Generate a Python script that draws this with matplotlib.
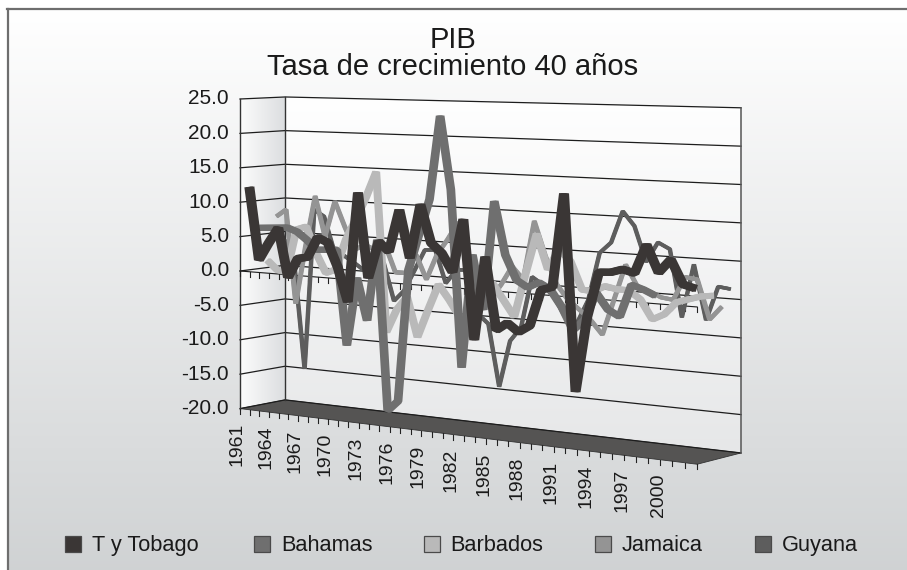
import matplotlib
matplotlib.use("Agg")
import matplotlib.pyplot as plt
from matplotlib.patches import Polygon, Rectangle
import numpy as np

plt.rcParams['font.family'] = ['Liberation Sans', 'DejaVu Sans']

first_year = 1961
n_years = 42
yticks = [25, 20, 15, 10, 5, 0, -5, -10, -15, -20]
year_labels = [1961, 1964, 1967, 1970, 1973, 1976, 1979, 1982, 1985, 1988, 1991, 1994, 1997, 2000]

names = ['T y Tobago', 'Bahamas', 'Barbados', 'Jamaica', 'Guyana']
colors = ['#3a3635', '#6f6f6f', '#b9b9b9', '#949494', '#5d5d5d']
widths = [5.2, 4.4, 4.3, 2.9, 2.5]
# the ribbons are wider sideways than they are tall
side = [1.4, 1.3, 1.0, 0.5, 0.5]

tobago = [12.2, 1.7, 4.2, 6.5, -0.5, 2.3, 2.6, 5.5, 4.9, 1.5, -3.3, 12.2, 0.3, 5.5, 4.2, 10.1, 3.5, 11.0, 5.8, 4.5,
          2.0, 9.3, -7.0, 4.4, -5.4, -4.3, -5.4, -4.4, 0.5, 1.0, 13.5, -12.6, -2.6, 3.4, 3.5, 4.0, 3.6, 7.4, 3.9, 5.7,
          2.6, 2.2]
bahamas = [6.1, 6.2, 6.3, 6.4, 5.9, 4.8, 3.5, 3.6, 3.7, -9.8, -0.1, -6.0, 5.5, -18.4, -16.9, 1.6, 6.6, 11.6, 23.2, 13.1,
           -11.3, 4.3, -3.1, 11.8, 4.6, 1.3, 0.4, 1.2, 0.4, -1.8, -4.8, -3.3, 0.4, -1.7, -2.5, 1.8, 1.3, 0.6]
barbados = [1.2, -0.1, -0.3, 6.0, 6.5, 2.8, 0.0, 0.6, 5.0, 8.0, 11.2, 14.9, -7.7, -4.4, -2.5, -8.0, -4.1, -0.4, -2.4, -4.7,
            -5.2, -2.0, 0.4, -1.8, -4.0, 1.9, 7.5, 2.8, 5.6, 4.1, 0.4, 0.3, 1.1, 0.8, 0.8, -0.3, -2.8, -2.0, -0.3, 0.2,
            0.7, 0.9]
jamaica = [7.5, 8.6, -5.1, 3.3, 10.8, 5.0, 10.2, 6.6, 3.4, 4.2, 3.6, 4.4, 0.6, 0.6, 3.3, -0.1, 3.5, 5.7, 8.2, 3.8,
           -3.8, -2.2, 0.0, 2.6, 0.9, 9.0, 4.3, 0.6, -1.4, -2.6, -3.9, -5.7, -0.9, 3.9, 1.1, 0.6, -0.1, -0.3, 2.8, 2.6,
           -2.5, -0.7]
guyana = [3.9, -0.5, -14.9, 8.6, 7.7, 2.9, 2.2, 1.3, 0.3, 1.1, 1.5, -3.8, -2.2, 0.8, 3.8, 3.9, -0.7, 1.3, 1.4, -4.6,
          -5.9, -14.5, -8.0, -6.0, 1.1, 0.1, -1.5, -4.1, -4.8, -1.5, 5.0, 6.5, 10.8, 8.9, 4.2, 6.9, 6.1, -2.8, 4.3, -2.9,
          1.6, 1.4]
series = [tobago, bahamas, barbados, jamaica, guyana]


# t along the years 0-1, d depth 0 (front) to 1 (back), v the value
def project(t, d, v):
    t, d, v = np.asarray(t, float), np.asarray(d, float), np.asarray(v, float)
    w = 1 - 0.125 * t + 0.022 * d
    x = (240 + 370 * t + 51.3 * d + 3.4 * t * d) / w
    y = (271 - 2.4 * t + 0.1 * d - 6.88 * v) / w
    return x, y


def pt(t, d, v):
    x, y = project(t, d, v)
    return float(x), float(y)


def gradient(ax, img, extent, clip, cmap_from, cmap_to):
    c0 = np.array(matplotlib.colors.to_rgb(cmap_from))
    c1 = np.array(matplotlib.colors.to_rgb(cmap_to))
    rgb = c0 + (c1 - c0) * img[..., None]
    im = ax.imshow(rgb, extent=extent, aspect='auto', interpolation='bilinear', zorder=1)
    im.set_clip_path(clip)


fig = plt.figure(figsize=(9.07, 5.70), dpi=100, facecolor='white')
ax = fig.add_axes([0, 0, 1, 1])
ax.set_xlim(0, 907)
ax.set_ylim(570, 0)
ax.axis('off')

# chart area
bg = np.linspace(0, 1, 200).reshape(-1, 1)
ax.imshow(np.stack([1 - bg * 0.185, 1 - bg * 0.175, 1 - bg * 0.17], axis=-1),
          extent=(8, 907, 570, 9), aspect='auto', zorder=0)
ax.plot([7.5, 7.5], [570, 9], color='#6e6e6e', lw=1.6, zorder=2)
ax.plot([7, 907], [9, 9], color='#6e6e6e', lw=1.6, zorder=2)

# walls and floor
back = [pt(0, 1, 25), pt(1, 1, 25), pt(1, 1, -20), pt(0, 1, -20)]
left = [pt(0, 0, 25), pt(0, 1, 25), pt(0, 1, -20), pt(0, 0, -20)]
floor = [pt(0, 0, -20), pt(0, 1, -20), pt(1, 1, -20), pt(1, 0, -20)]

back_patch = Polygon(back, closed=True, fc='none', ec='none')
ax.add_patch(back_patch)
gradient(ax, np.linspace(0, 1, 200).reshape(-1, 1), (285, 742, 455, 96), back_patch, '#ffffff', '#e6e7e8')
left_patch = Polygon(left, closed=True, fc='none', ec='none')
ax.add_patch(left_patch)
gradient(ax, np.linspace(0, 1, 100).reshape(1, -1), (240, 285, 409, 96), left_patch, '#fcfcfc', '#dcdee0')
ax.set_xlim(0, 907)
ax.set_ylim(570, 0)

ax.add_patch(Polygon(floor, closed=True, fc='#555453', ec='#333333', lw=0.6, zorder=3))

for v in yticks:
    xs, ys = zip(pt(0, 0, v), pt(0, 1, v), pt(1, 1, v))
    ax.plot(xs, ys, color='#1d1d1d', lw=0.9, zorder=3)
    x0, y0 = pt(0, 0, v)
    ax.text(229, y0, f'{v:.1f}', ha='right', va='center', fontsize=15, color='#1a1a1a', zorder=6)

for (t, d) in [(0, 0), (0, 1)]:
    xs, ys = zip(pt(t, d, 25), pt(t, d, -20))
    ax.plot(xs, ys, color='#333333', lw=1.0, zorder=3)
xs, ys = zip(pt(1, 1, 25), pt(1, 1, -20))
ax.plot(xs, ys, color='#555555', lw=1.1, zorder=3)

# zero axis and the floor edge with their ticks
xs, ys = zip(pt(0, 0, 0), pt(1, 0, 0))
ax.plot(xs, ys, color='#1d1d1d', lw=0.8, zorder=3)
for k in range(n_years + 1):
    t = k / n_years
    x0, y0 = pt(t, 0, 0)
    ax.plot([x0, x0], [y0, y0 + 5], color='#222222', lw=0.8, zorder=3)
    x1, y1 = pt(t, 0, -20)
    ax.plot([x1, x1], [y1, y1 + 5], color='#222222', lw=0.8, zorder=3)

# lines, back one first
for k in range(len(series) - 1, -1, -1):
    vals = np.array(series[k], float)
    idx = np.arange(len(vals))
    x, y = project((idx + 0.5) / n_years, (k + 0.5) / len(series), vals)
    for dx in [-side[k], 0, side[k]]:
        ax.plot(x + dx, y, color=colors[k], lw=widths[k], solid_joinstyle='bevel', solid_capstyle='butt',
                zorder=4 + (5 - k) * 0.1)

for year in year_labels:
    t = (year - first_year + 0.5) / n_years
    x, y = pt(t, 0, -20)
    ax.text(x - 8, y + 13, str(year), rotation=90, ha='center', va='top', fontsize=14, color='#1a1a1a')

ax.text(453, 48, 'PIB', ha='center', va='baseline', fontsize=21, color='#1a1a1a')
ax.text(453, 75, 'Tasa de crecimiento 40 años', ha='center', va='baseline', fontsize=21, color='#1a1a1a')

# legend
key_x = [65, 254, 424, 595, 755]
text_x = [92, 281, 450, 622, 782]
for k in range(len(names)):
    ax.add_patch(Rectangle((key_x[k], 536), 16, 16, fc=colors[k], ec='#4a4a4a', lw=0.9, zorder=5))
    ax.text(text_x[k], 551, names[k], ha='left', va='baseline', fontsize=15.7, color='#1a1a1a')

fig.savefig('out.png', dpi=100, facecolor='white')
